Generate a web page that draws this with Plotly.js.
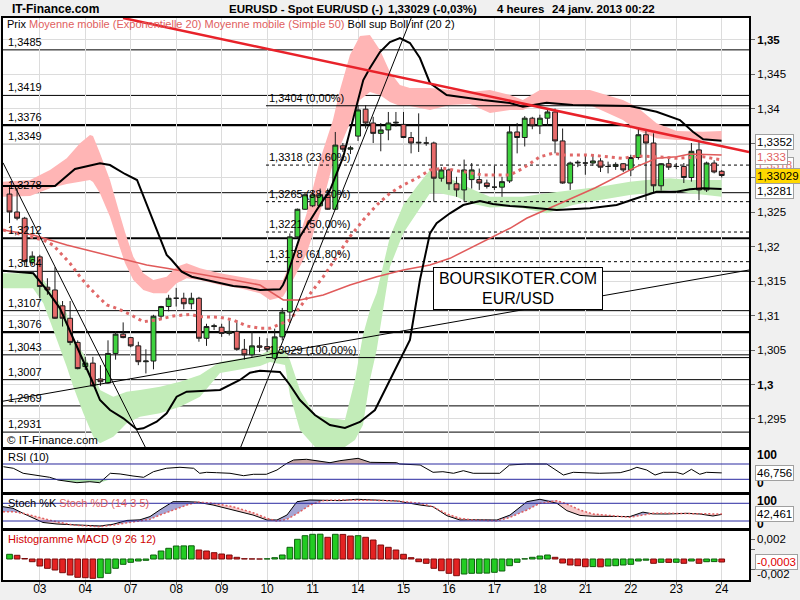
<!DOCTYPE html>
<html><head><meta charset="utf-8">
<script src="https://cdn.plot.ly/plotly-3.0.1.min.js"></script>
<style>html,body{margin:0;padding:0;background:#f0f0f0;}#chart{width:800px;height:600px;}</style>
</head><body><div id="chart"></div>
<script>
// ---------- DATA ----------
const dayTicks = [4,10,16,22,28,34,40,46,52,58,64,70,76,82,88,94];
const dayLabels = ['03','04','07','08','09','10','11','14','15','16','17','18','21','22','23','24'];

const open  = [1.3276,1.3250,1.3241,1.3177,1.3185,1.3141,1.3137,1.3114,1.3096,1.3061,1.3026,1.3031,1.3008,1.3002,1.3045,1.3073,1.3068,1.3056,1.3033,1.3034,1.3099,1.3113,1.3125,1.3125,1.3117,1.3125,1.3067,1.3084,1.3083,1.3074,1.3077,1.3051,1.3043,1.3056,1.3055,1.3038,1.3069,1.3105,1.3214,1.3254,1.3259,1.3259,1.3275,1.3254,1.3346,1.3341,1.3360,1.3399,1.3379,1.3364,1.3369,1.3379,1.3377,1.3358,1.3350,1.3350,1.3350,1.3299,1.3311,1.3291,1.3282,1.3297,1.3297,1.3292,1.3286,1.3286,1.3295,1.3366,1.3358,1.3386,1.3375,1.3386,1.3395,1.3353,1.3292,1.3321,1.3321,1.3321,1.3324,1.3316,1.3316,1.3320,1.3311,1.3329,1.3362,1.3350,1.3288,1.3320,1.3316,1.3316,1.3300,1.3340,1.3282,1.3321,1.3309];
const high  = [1.3289,1.3285,1.3243,1.3193,1.3188,1.3154,1.3170,1.3121,1.3121,1.3064,1.3040,1.3040,1.3028,1.3064,1.3077,1.3090,1.3069,1.3062,1.3051,1.3101,1.3114,1.3130,1.3140,1.3133,1.3133,1.3127,1.3088,1.3088,1.3088,1.3093,1.3093,1.3066,1.3077,1.3069,1.3067,1.3081,1.3111,1.3219,1.3255,1.3279,1.3282,1.3284,1.3284,1.3366,1.3350,1.3346,1.3405,1.3405,1.3388,1.3379,1.3395,1.3395,1.3395,1.3366,1.3393,1.3359,1.3352,1.3315,1.3313,1.3301,1.3326,1.3321,1.3313,1.3297,1.3317,1.3301,1.3375,1.3379,1.3389,1.3388,1.3391,1.3400,1.3400,1.3371,1.3323,1.3325,1.3333,1.3333,1.3328,1.3323,1.3322,1.3321,1.3333,1.3371,1.3370,1.3364,1.3321,1.3328,1.3321,1.3321,1.3350,1.3352,1.3323,1.3325,1.3311];
const low   = [1.3234,1.3238,1.3172,1.3173,1.3125,1.3130,1.3095,1.3084,1.3057,1.3022,1.3021,1.2997,1.2998,1.3001,1.3036,1.3067,1.3054,1.3028,1.3016,1.3022,1.3094,1.3106,1.3113,1.3109,1.3109,1.3062,1.3056,1.3079,1.3069,1.3071,1.3049,1.3036,1.3040,1.3047,1.3047,1.3036,1.3064,1.3089,1.3212,1.3253,1.3257,1.3258,1.3253,1.3253,1.3337,1.3334,1.3353,1.3371,1.3350,1.3338,1.3354,1.3374,1.3357,1.3335,1.3337,1.3346,1.3265,1.3294,1.3282,1.3272,1.3265,1.3284,1.3282,1.3284,1.3282,1.3272,1.3292,1.3335,1.3345,1.3370,1.3363,1.3375,1.3335,1.3291,1.3282,1.3315,1.3304,1.3317,1.3308,1.3306,1.3311,1.3308,1.3302,1.3326,1.3267,1.3279,1.3281,1.3311,1.3312,1.3292,1.3294,1.3267,1.3279,1.3306,1.3300];
const close = [1.3250,1.3241,1.3178,1.3186,1.3142,1.3137,1.3096,1.3096,1.3061,1.3023,1.3031,1.2998,1.3004,1.3045,1.3073,1.3068,1.3056,1.3033,1.3034,1.3099,1.3113,1.3125,1.3125,1.3117,1.3125,1.3067,1.3084,1.3085,1.3074,1.3077,1.3051,1.3043,1.3056,1.3054,1.3051,1.3069,1.3105,1.3214,1.3254,1.3275,1.3275,1.3275,1.3254,1.3347,1.3341,1.3343,1.3398,1.3379,1.3364,1.3369,1.3379,1.3380,1.3358,1.3350,1.3351,1.3350,1.3299,1.3311,1.3291,1.3282,1.3311,1.3311,1.3292,1.3287,1.3286,1.3294,1.3366,1.3358,1.3386,1.3375,1.3386,1.3395,1.3353,1.3292,1.3321,1.3322,1.3321,1.3324,1.3315,1.3316,1.3319,1.3311,1.3329,1.3362,1.3350,1.3288,1.3320,1.3315,1.3316,1.3300,1.3338,1.3282,1.3321,1.3308,1.33029];

const emaX = [-0.86,4.46,5.74,7.98,9.30,10.62,11.94,12.83,14.15,15.90,17.66,19.42,21.62,23.82,25.14,27.78,29.53,31.30,33.06,34.38,37.01,38.33,39.66,41.41,43.18,44.93,46.69,48.46,50.21,51.97,53.73,55.49,57.24,59.88,62.52,66.05,67.76,70.01,71.72,73.04,76.60,80.96,82.77,85.40,88.04,91.55,93.98];
const emaY = [1.32239,1.32094,1.32022,1.31757,1.31562,1.31394,1.31249,1.31152,1.31104,1.31017,1.30910,1.30935,1.30993,1.31017,1.30983,1.30974,1.30935,1.30848,1.30815,1.30815,1.30935,1.31128,1.31322,1.31562,1.31852,1.32142,1.32384,1.32601,1.32771,1.32891,1.32988,1.33109,1.33133,1.33084,1.33036,1.33036,1.33133,1.33301,1.33351,1.33326,1.33326,1.33278,1.33312,1.33301,1.33278,1.33301,1.33254];

const smaX = [-0.86,3.10,5.34,7.55,10.19,12.83,15.47,18.11,20.74,23.38,26.02,29.53,33.06,34.38,36.13,38.33,41.41,44.93,48.46,51.97,55.49,58.13,60.77,63.41,66.05,68.25,77.26,82.77,85.40,88.04,89.80,93.98];
const smaY = [1.32239,1.32167,1.32094,1.32022,1.31949,1.31877,1.31804,1.31732,1.31684,1.31635,1.31587,1.31514,1.31442,1.31345,1.31225,1.31225,1.31297,1.31442,1.31562,1.31659,1.31732,1.31829,1.31974,1.32119,1.32264,1.32409,1.32848,1.33157,1.33278,1.33301,1.33341,1.33326];

const bollUpX = [-0.86,6.00,8.64,11.94,13.26,15.24,16.83,19.86,20.74,21.40,22.72,24.04,26.02,29.53,31.30,33.06,35.69,36.09,36.58,38.33,40.54,42.30,44.05,45.82,46.69,47.57,48.89,50.21,51.53,52.85,54.17,55.49,57.69,62.48,66.05,67.76,70.89,74.36,81.88,85.40,88.48,90.19,91.55,93.98];
const bollUpY = [1.32877,1.32877,1.33123,1.33206,1.33181,1.33051,1.32964,1.32142,1.31877,1.31804,1.31635,1.31562,1.31514,1.31428,1.31409,1.31370,1.31380,1.31442,1.31562,1.32142,1.32529,1.32819,1.33301,1.34026,1.34413,1.34587,1.34819,1.34964,1.35022,1.34949,1.34732,1.34370,1.34196,1.34123,1.34080,1.34026,1.34084,1.34051,1.34036,1.33954,1.33833,1.33664,1.33554,1.33533];

const bollLowX = [-0.86,3.14,4.91,6.66,8.21,9.53,10.85,11.94,13.26,15.02,16.79,17.66,19.42,20.74,22.06,23.38,25.14,27.78,30.41,31.74,33.06,35.69,37.01,38.33,40.31,42.29,44.27,46.25,48.23,50.21,51.53,52.85,54.17,55.49,56.37,58.13,59.88,62.09,63.80,66.05,67.76,72.21,76.60,80.13,82.77,85.40,88.04,89.80,91.55,93.98];
const bollLowY = [1.31649,1.31612,1.31370,1.31104,1.30717,1.30403,1.30065,1.29775,1.29630,1.29510,1.29351,1.29365,1.29461,1.29583,1.29823,1.29896,1.29906,1.29920,1.30065,1.30171,1.30200,1.30181,1.29993,1.29775,1.29558,1.29413,1.29370,1.29457,1.29630,1.30065,1.30355,1.30645,1.31514,1.32191,1.32336,1.32481,1.32601,1.32659,1.32616,1.32587,1.32577,1.32529,1.32554,1.32601,1.32699,1.32794,1.32794,1.32829,1.32843,1.32833];

const pinkX = [-0.86,2.71,5.34,7.55,9.30,10.62,11.02,11.94,13.26,14.58,15.24,16.34,17.66,18.98,20.74,22.06,23.38,25.14,27.78,30.41,33.06,34.38,36.09,37.41,39.22,40.97,42.69,43.61,44.93,46.25,47.57,48.89,50.21,51.53,52.85,55.49,58.13,60.77,63.41,66.05,67.76,70.01,72.21,76.60,80.96,82.77,85.40,88.04,91.51,93.98];
const pinkTop = [1.32939,1.32964,1.33109,1.33278,1.33496,1.33616,1.33601,1.33351,1.32964,1.32457,1.32210,1.31852,1.31612,1.31514,1.31562,1.31707,1.31757,1.31684,1.31612,1.31562,1.31514,1.31514,1.31514,1.31852,1.32481,1.33254,1.33833,1.34268,1.34775,1.35051,1.35065,1.34848,1.34529,1.34341,1.34297,1.34297,1.34268,1.34239,1.34268,1.34196,1.34123,1.34268,1.34268,1.34268,1.34123,1.34026,1.33786,1.33674,1.33664,1.33674];
const pinkBot = [1.32722,1.32732,1.32843,1.32906,1.32939,1.32964,1.32935,1.32771,1.32432,1.31978,1.31761,1.31514,1.31370,1.31322,1.31322,1.31467,1.31539,1.31514,1.31442,1.31394,1.31322,1.31225,1.31272,1.31514,1.31901,1.32481,1.33206,1.33446,1.33786,1.34123,1.34239,1.34196,1.34094,1.34036,1.34036,1.33978,1.34051,1.34065,1.33935,1.33978,1.33978,1.34080,1.34051,1.34051,1.33833,1.33688,1.33568,1.33544,1.33544,1.33544];

const greenX = [-0.86,3.10,4.46,5.78,7.55,8.42,9.74,11.06,11.94,13.70,15.47,17.22,19.86,22.50,25.14,27.78,33.06,34.38,36.36,37.01,38.33,40.31,42.29,44.27,45.59,46.65,47.57,48.46,50.21,51.97,53.73,55.49,56.81,59.01,60.77,63.41,66.05,67.76,70.89,74.36,77.93,81.88,84.08,87.16,89.80,93.98];
const greenTop = [1.31612,1.31612,1.31514,1.31322,1.31032,1.30645,1.30452,1.30162,1.29920,1.29823,1.29896,1.29920,1.29968,1.30041,1.30138,1.30326,1.30428,1.30500,1.30500,1.30355,1.29920,1.29558,1.29514,1.29486,1.30065,1.30717,1.31080,1.31326,1.32142,1.32601,1.32867,1.33109,1.33061,1.32939,1.32843,1.32722,1.32722,1.32722,1.32771,1.32819,1.32867,1.32939,1.32964,1.32988,1.32964,1.32964];
const greenBot = [1.31394,1.31394,1.31177,1.30790,1.30258,1.29968,1.29583,1.29243,1.29148,1.29243,1.29438,1.29533,1.29583,1.29678,1.29823,1.30167,1.30268,1.30326,1.30283,1.29848,1.29341,1.29094,1.29094,1.29094,1.29196,1.29413,1.30065,1.30500,1.31707,1.32191,1.32481,1.32771,1.32771,1.32722,1.32626,1.32565,1.32577,1.32554,1.32481,1.32601,1.32674,1.32746,1.32771,1.32819,1.32771,1.32722];

const redTrendX = [14.98, 97.6];   const redTrendY = [1.35312, 1.33370];
const downLineX = [-0.86, 17.91];  const downLineY = [1.33214, 1.29094];
const upLineX   = [30.52, 53.02];  const upLineY   = [1.29094, 1.35312];
const longLineX = [-0.86, 97.6];   const longLineY = [1.29758, 1.31659];

const levels = [1.3485,1.3419,1.3376,1.3349,1.3278,1.3212,1.3164,1.3107,1.3076,1.3043,1.3007,1.2969,1.2931];
const strongLevels = [1.3376,1.3212,1.3076];
const fibStart = 33.85;
const fibLevels = [1.3404,1.3318,1.3265,1.3221,1.3178,1.3039];
const fibValues = ['1,3404','1,3318','1,3265','1,3221','1,3178','1,3029'];
const fibPct = ['0,00%','23,60%','38,20%','50,00%','61,80%','100,00%'];

const yTickVals = [1.295,1.3,1.305,1.31,1.315,1.32,1.325,1.33,1.335,1.34,1.345,1.35];
const yTickText = ['1,295','<b>1,3</b>','1,305','1,31','1,315','1,32','1,325','1,33','1,335','1,34','1,345','<b>1,35</b>'];

const lastBollUp = 1.3352, lastSma = 1.333, lastEma = 1.3318, lastPrice = 1.33029, lastBollLow = 1.3281;

const rsiX = [-0.8,0.5,1.8,3.6,5.3,6.4,8.9,10.6,11.9,13.3,14.6,16.3,17.7,19.0,20.7,22.5,24.3,25.1,26.0,27.3,29.1,30.9,32.2,33.9,35.3,36.6,37.5,39.2,41.0,42.3,43.6,46.0,47.6,51.1,51.5,54.2,55.9,57.2,58.6,59.9,61.2,64.7,66.0,68.2,70.9,73.1,74.4,77.9,80.6,81.9,82.8,84.1,85.2,86.3,88.0,88.9,90.0,91.1,92.0,94.0];
const rsiV = [62.9,58.8,45.7,41.2,35.2,28.2,21.1,23.7,21.1,45.7,43.9,38.6,35.2,49.9,58.8,61.4,58.8,45.7,48.3,47.3,45.7,39.4,43.1,43.1,54.3,71.8,80.5,82.3,77.8,73.4,78.6,84.9,74.4,73.4,70.0,67.4,48.3,49.9,45.7,52.5,45.7,45.7,67.4,70.0,70.0,41.2,48.3,45.7,47.3,54.3,61.4,54.3,41.2,48.3,48.3,43.1,56.1,43.1,48.3,46.756];
const rsiLast = 46.756;

const stochX = [-0.86,0.46,1.78,3.10,4.42,6.27,8.38,10.23,11.94,13.66,15.51,17.22,18.54,19.86,21.58,23.42,24.74,26.86,29.49,32.13,33.98,35.30,36.62,37.94,39.66,41.37,43.61,45.86,48.50,51.13,54.17,55.88,57.73,59.45,61.16,63.01,64.33,66.05,68.29,70.01,72.25,73.57,75.29,77.00,79.64,81.88,83.60,84.92,86.77,89.41,91.12,92.84,94.03];
const stochK = [68.5,63,46,30,15,9.8,7,5,3.1,9,22,24,35,58,85.4,85.4,84,74.2,57.3,40.3,23.4,23.4,40.3,85.4,91.2,91.2,89,93.6,91.2,87.8,74.2,68.5,38,23.4,24,25,23.4,40,85.4,93.6,80,55,39,36,34.6,35,50,44,43.7,46,43.7,37,42.461];
const stochD = [51.5,51.5,46.1,37,30,17,6.4,3.5,0.7,6.4,14.2,20,25.8,40.3,57.3,74.2,84.4,80,68.5,48.1,29.2,20,25.8,45,74,89,91.2,91,90,87.8,80,68.5,43.7,29.2,23.4,22,21,32.5,57.3,80,88.8,77.6,57.3,43.7,37,32.5,40.3,46.1,46.1,46.1,43.7,43.7,43.7];
const stochLast = 42.461;

const macd = [0.00047,0.00037,0.00005,-0.00027,-0.0007,-0.00093,-0.0011,-0.00137,-0.0016,-0.00183,-0.00187,-0.00193,-0.00187,-0.00143,-0.00093,-0.00053,-0.00033,-0.0002,-0.00013,0.0004,0.0008,0.00107,0.0013,0.00131,0.00132,0.0009,0.0008,0.00063,0.0005,0.0004,0.00017,0.00003,0.00001,0.0,0.00002,0.00013,0.0004,0.00117,0.00197,0.00233,0.00247,0.00248,0.00217,0.00247,0.00246,0.0023,0.00233,0.00217,0.0019,0.0014,0.00117,0.0009,0.00047,0.00013,-0.00027,-0.00043,-0.00093,-0.00117,-0.00143,-0.00167,-0.0015,-0.00143,-0.00142,-0.00141,-0.00133,-0.0012,-0.00067,-0.00033,0.00002,0.00017,0.0003,0.0004,0.00017,-0.0004,-0.0006,-0.00067,-0.00077,-0.00076,-0.00078,-0.0007,-0.00067,-0.0006,-0.00053,-0.0002,-0.00012,-0.00043,-0.00033,-0.00034,-0.00033,-0.00043,-0.0002,-0.00043,-0.00027,-0.00026,-0.0003];
const macdLast = -0.0003;

// ---------- LAYOUT HELPERS ----------
const W = 800, H = 600, M = {l:3, r:51, t:18, b:20};
const PW = W - M.l - M.r, PH = H - M.t - M.b;
const px = x => (x - M.l) / PW;
const py = y => (H - M.b - y) / PH;
const FONT = 'Liberation Sans, Arial, sans-serif';
const XR = [-0.86, 97.6];
const idx = open.map((_, i) => i);
const fmt = v => v.toFixed(4).replace('.', ',');

// ---------- TRACES ----------
const traces = [];
traces.push({type:'candlestick', x:idx, open:open, high:high, low:low, close:close, xaxis:'x', yaxis:'y',
  increasing:{line:{color:'#1c1c1c', width:1}, fillcolor:'#3fd23f'},
  decreasing:{line:{color:'#1c1c1c', width:1}, fillcolor:'#e86b6b'},
  whiskerwidth:0, hoverinfo:'skip'});
function line(x, y, color, width, dash, xa, ya){
  return {type:'scatter', mode:'lines', x:x, y:y, xaxis:xa||'x', yaxis:ya||'y',
    line:{color:color, width:width, dash:dash||'solid'}, hoverinfo:'skip'};
}
traces.push(line(smaX, smaY, '#e05a5a', 1.5));
traces.push(line(emaX, emaY, '#e06868', 3, '3px,4px'));
traces.push(line(bollUpX, bollUpY, '#000', 2));
traces.push(line(bollLowX, bollLowY, '#000', 2));
traces.push(line(redTrendX, redTrendY, '#e8222a', 2.5));
traces.push(line(downLineX, downLineY, '#000', 1));
traces.push(line(upLineX, upLineY, '#000', 1));
traces.push(line(longLineX, longLineY, '#000', 1));

function fillPair(x, base, top, color, xa, ya){
  return [
    {type:'scatter', mode:'lines', x:x, y:base, xaxis:xa, yaxis:ya, line:{width:0}, hoverinfo:'skip'},
    {type:'scatter', mode:'lines', x:x, y:top, xaxis:xa, yaxis:ya, line:{width:0}, fill:'tonexty', fillcolor:color, hoverinfo:'skip'}
  ];
}
traces.push(...fillPair(rsiX, rsiX.map(()=>70), rsiV.map(v=>Math.max(v,70)), 'rgba(190,150,150,0.85)', 'x2', 'y2'));
traces.push(...fillPair(rsiX, rsiX.map(()=>30), rsiV.map(v=>Math.min(v,30)), 'rgba(160,215,160,0.9)', 'x2', 'y2'));
traces.push(line(rsiX, rsiV, '#000', 1, 'solid', 'x2', 'y2'));

traces.push(...fillPair(stochX, stochD, stochK.map((k,i)=>Math.max(k, stochD[i])), 'rgba(150,150,205,0.85)', 'x3', 'y3'));
traces.push(...fillPair(stochX, stochD, stochK.map((k,i)=>Math.min(k, stochD[i])), 'rgba(245,195,195,0.9)', 'x3', 'y3'));
traces.push(line(stochX, stochK, '#000', 1, 'solid', 'x3', 'y3'));
traces.push(line(stochX, stochD, '#e06060', 1.5, '2px,2px', 'x3', 'y3'));

const macdUp = macd.map((v,i) => i === 0 || v >= macd[i-1]);
traces.push({type:'bar', x:idx, y:macd, xaxis:'x4', yaxis:'y4', width:0.75,
  marker:{color:macdUp.map(u => u ? '#22cc22' : '#e42222'),
          line:{color:macdUp.map(u => u ? '#0b5e0b' : '#7a0a0a'), width:1}}, hoverinfo:'skip'});

// ---------- SHAPES ----------
const shapes = [];
function bandPath(x, top, bot){
  let p = 'M' + x[0] + ',' + top[0];
  for (let i = 1; i < x.length; i++) p += ' L' + x[i] + ',' + top[i];
  for (let i = x.length - 1; i >= 0; i--) p += ' L' + x[i] + ',' + bot[i];
  return p + ' Z';
}
shapes.push({type:'path', xref:'x', yref:'y', path:bandPath(pinkX, pinkTop, pinkBot), fillcolor:'#ffb5b5', line:{width:0}, layer:'between'});
shapes.push({type:'path', xref:'x', yref:'y', path:bandPath(greenX, greenTop, greenBot), fillcolor:'#c2ecb8', line:{width:0}, layer:'between'});
levels.forEach(l => shapes.push({type:'line', xref:'paper', x0:0, x1:1, yref:'y', y0:l, y1:l,
  line:{color:'#000', width: strongLevels.includes(l) ? 2.2 : 1}, layer:'between'}));
fibLevels.forEach((l, i) => shapes.push({type:'line', xref:'x', x0:fibStart, x1:XR[1], yref:'y', y0:l, y1:l,
  line:{color:'#000', width:1, dash:(i === 0 || i === fibLevels.length - 1) ? 'solid' : '3px,3px'}, layer:'between'}));
[[70,'y2'],[30,'y2'],[80,'y3'],[20,'y3']].forEach(([v, ya]) => shapes.push({type:'line', xref:'paper', x0:0, x1:1, yref:ya, y0:v, y1:v,
  line:{color:'#2a2aa0', width:1}, layer:'above'}));

// ---------- ANNOTATIONS ----------
const ann = [];
const txt = (x, y, text, opts) => Object.assign({xref:'paper', yref:'paper', x:x, y:y, text:text, showarrow:false,
  xanchor:'left', yanchor:'middle', font:{family:FONT, size:11, color:'#000'}}, opts || {});
ann.push(txt(px(10), py(9), '<b>IT-Finance.com</b>', {font:{family:FONT, size:12, color:'#000'}}));
ann.push(txt(px(227), py(9), '<b>EURUSD - Spot EUR/USD (-)</b>', {font:{family:FONT, size:11.5, color:'#000'}}));
ann.push(txt(px(386), py(9), '<b>1,33029 (-0,03%)</b>', {font:{family:FONT, size:11.5, color:'#000'}}));
ann.push(txt(px(495), py(9), '<b>4 heures</b>', {font:{family:FONT, size:11.5, color:'#000'}}));
ann.push(txt(px(550), py(9), '<b>24 janv. 2013 00:22</b>', {font:{family:FONT, size:11.5, color:'#000'}}));
ann.push(txt(px(5), py(24), 'Prix <span style="color:#e06060">Moyenne mobile (Exponentielle 20) Moyenne mobile (Simple 50)</span> Boll sup Boll inf (20 2)'));
ann.push(txt(px(5), py(440), '© IT-Finance.com', {font:{family:FONT, size:11.5, color:'#000'}}));
levels.forEach(l => ann.push({xref:'paper', x:px(6), yref:'y', y:l, text:fmt(l), showarrow:false,
  xanchor:'left', yanchor:'bottom', font:{family:FONT, size:11, color:'#000'}}));
fibLevels.forEach((l, i) => ann.push({xref:'x', x:fibStart, xshift:1, yref:'y', y:l, text:fibValues[i] + ' (' + fibPct[i] + ')',
  showarrow:false, xanchor:'left', yanchor:'bottom', font:{family:FONT, size:11, color:'#000'}}));
ann.push(txt(px(518), py(289), 'BOURSIKOTER.COM<br>EUR/USD', {xanchor:'center', bgcolor:'#fff', bordercolor:'#000', borderwidth:1,
  width:166, height:39, font:{family:FONT, size:16, color:'#000'}}));
ann.push(txt(px(6), py(457), 'RSI (10)'));
ann.push(txt(px(6), py(503), 'Stoch %K <span style="color:#e06060">Stoch %D (14 3 5)</span>'));
ann.push(txt(px(6), py(539), 'Histogramme MACD (9 26 12)', {font:{family:FONT, size:11, color:'#d00000'}}));
const rl = (y, text, size, bold) => txt(1, y, bold ? '<b>' + text + '</b>' : text, {xshift:6, font:{family:FONT, size:size, color:'#000'}});
ann.push(rl(py(455), '100', 12, true));
ann.push(rl(py(483), '0', 12, true));
ann.push(rl(py(501), '100', 12, true));
ann.push(rl(py(524), '0', 12, true));
ann.push(rl(py(539.3), '0,002', 11.5, false));
ann.push(rl(py(574.2), '-0,002', 11.5, false));
const box = (yref, y, text, color, bg) => ({xref:'paper', x:1, xshift:6, yref:yref, y:y, text:text, showarrow:false,
  xanchor:'left', yanchor:'middle', bgcolor:bg || '#fff', bordercolor:'#a0a0a0', borderwidth:1, borderpad:1,
  font:{family:FONT, size:11.5, color:color}});
ann.push(box('y', lastEma, fmt(lastEma), '#e07070'));
ann.push(box('y', lastBollUp, fmt(lastBollUp), '#000'));
ann.push(box('y', lastSma, '1,333', '#e06060'));
ann.push(box('y', lastPrice, '1,33029', '#000', '#ffd800'));
ann.push(box('y', lastBollLow, fmt(lastBollLow), '#000'));
ann.push(box('y2', rsiLast, '46,756', '#000'));
ann.push(box('y3', stochLast, '42,461', '#000'));
ann.push(box('y4', macdLast, '-0,0003', '#e00000'));

// ---------- AXES ----------
const xbase = {range:XR, tickvals:dayTicks, ticktext:dayLabels, showticklabels:false, ticks:'', showgrid:true, gridcolor:'#dcdcdc',
  showline:true, mirror:true, linecolor:'#000', linewidth:2, zeroline:false, fixedrange:true};
const ybase = {side:'right', showgrid:false, showline:true, mirror:true, linecolor:'#000', linewidth:2, zeroline:false,
  showticklabels:false, ticks:'', fixedrange:true};
const layout = {
  width:W, height:H, margin:M, paper_bgcolor:'#f0f0f0', plot_bgcolor:'#fff', showlegend:false,
  font:{family:FONT, size:11, color:'#000'}, boxgap:0.2, boxgroupgap:0.2, bargap:0,
  xaxis: Object.assign({}, xbase, {anchor:'y', rangeslider:{visible:false}}),
  xaxis2: Object.assign({}, xbase, {anchor:'y2', matches:'x'}),
  xaxis3: Object.assign({}, xbase, {anchor:'y3', matches:'x'}),
  xaxis4: Object.assign({}, xbase, {anchor:'y4', matches:'x', showticklabels:true, ticks:'outside', ticklen:3, tickcolor:'#666',
    ticklabelstandoff:-6, tickfont:{family:FONT, size:12, color:'#000'}}),
  yaxis: Object.assign({}, ybase, {domain:[py(447), 1], range:[1.29094, 1.35312], tickvals:yTickVals, ticktext:yTickText,
    showticklabels:true, ticks:'outside', ticklen:4, tickcolor:'#666', showgrid:true, gridcolor:'#dcdcdc',
    tickfont:{family:FONT, size:11.5, color:'#000'}}),
  yaxis2: Object.assign({}, ybase, {domain:[py(492), py(449.5)], range:[-3.2, 107.9]}),
  yaxis3: Object.assign({}, ybase, {domain:[py(528), py(495)], range:[-3.7, 108.1]}),
  yaxis4: Object.assign({}, ybase, {domain:[0, py(531)], range:[-0.0021, 0.0028], tickvals:[0.002, 0.001, -0.001],
    ticks:'outside', ticklen:4, tickcolor:'#666'}),
  shapes:shapes, annotations:ann
};
Plotly.newPlot('chart', traces, layout, {displayModeBar:false, staticPlot:true});
</script></body></html>
